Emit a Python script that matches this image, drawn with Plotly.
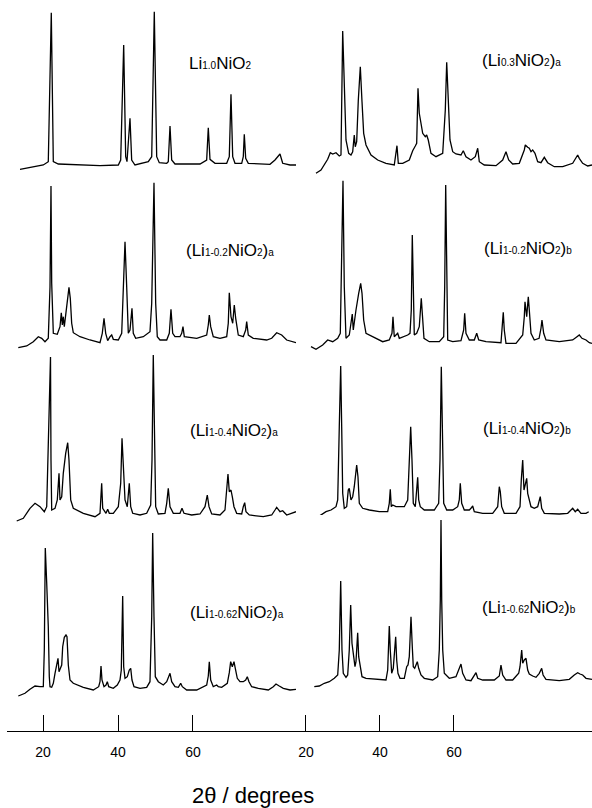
import plotly.graph_objects as go

# ---------------- data: 2theta (deg) and intensity (a.u.) ----------------
tt_10 = [13.87, 20.08, 21.41, 22.21, 22.75, 24.08, 35.2, 40.08, 40.72, 41.52, 42.05, 42.4, 43.2, 43.65, 44.53, 46.75,
         48.08, 48.99, 49.68, 50.32, 51.01, 52.99, 53.41, 53.87, 54.32, 55.2, 61.87, 63.65, 64.08, 64.53, 65.87, 68.99,
         69.68, 70.13, 70.59, 71.2, 72.99, 73.41, 73.68, 74.05, 74.75, 80.53, 81.87, 83.2, 83.92, 85.87, 87.47]
int_10 = [-3.3, 1, 4.3, 153.3, 4.3, 2, 0.3, 1, 6, 121, 9.3, 4.3, 47.7, 6, 1, 2.7, 4.3, 9.3, 154.3, 9.3, 3.3, 2.7, 4.3,
          40, 6, 2, 2, 6, 38.3, 6.7, 2.7, 2.7, 9.3, 71.7, 9.3, 2.7, 2.7, 9.3, 31.7, 7.7, 2.7, 1.7, 6, 12, 2.7, 1, 1]

tt_03a = [22.70, 24.05, 25.86, 26.57, 27.22, 28.11, 29.0, 29.46, 29.92, 30.35, 30.81, 31.54, 32.16, 32.62, 33.05, 33.32,
          33.70, 34.14, 34.68, 35.14, 35.59, 36.22, 37.57, 39.38, 41.62, 43.86, 44.59, 44.95, 46.14, 47.92, 48.84, 49.54,
          49.92, 50.27, 50.62, 51.54, 52.24, 52.62, 53.05, 53.78, 55.14, 56.95, 57.65, 58.03, 58.57, 58.92, 59.65, 60.54,
          61.89, 62.51, 63.24, 64.59, 65.76, 66.41, 66.84, 68.19, 71.35, 73.16, 74.05, 74.78, 75.86, 77.65, 79.0, 79.27,
          79.92, 80.35, 80.81, 81.27, 81.89, 82.62, 83.51, 84.41, 85.32, 87.11, 89.38, 92.08, 93.43, 93.86, 94.78, 96.14,
          97.30]
int_03a = [-7.3, -4, 6.7, 13.3, 12, 13.3, 10, 11, 135, 86, 26, 12.7, 11, 14.3, 31, 19.3, 24.3, 66, 99.3, 64.3, 32.7, 21,
           11, 6, 2.7, 1, 20.3, 2.7, 2.7, 6, 15.3, 20, 22.7, 77.7, 52.7, 32.7, 29.3, 31, 26, 12.7, 9.3, 12.7, 56, 103.7,
           61, 26, 14.3, 12, 11, 15.3, 9.3, 6, 9.3, 17.7, 4.3, 1, 0.3, 6, 14.3, 6, 2, 2.7, 16, 21, 18.7, 17.7, 14.3, 16,
           12.7, 4.3, 3.3, 8.7, 3.3, -0.7, -0.7, 2.7, 11, 7.7, 2.7, 0, 1]

tt_02a = [13.41, 15.65, 17.41, 18.75, 19.65, 20.53, 21.41, 21.87, 22.13, 22.32, 22.75, 23.81, 24.53, 24.88, 25.15, 25.41,
          25.68, 26.05, 26.59, 26.93, 27.28, 27.65, 28.08, 29.87, 32.53, 35.2, 35.81, 36.27, 36.72, 37.25, 37.87, 38.32,
          38.75, 40.08, 40.99, 41.41, 41.87, 42.32, 42.75, 43.2, 43.73, 44.08, 44.72, 46.75, 48.53, 48.99, 49.6, 50.05,
          50.48, 51.2, 52.99, 53.68, 54.13, 54.59, 55.2, 56.53, 56.99, 57.33, 57.68, 60.99, 63.65, 64.08, 64.35, 64.72,
          65.41, 67.2, 68.99, 69.41, 69.68, 70.13, 70.59, 71.01, 71.39, 72.08, 73.41, 74.05, 74.32, 74.75, 76.08, 79.65,
          80.99, 82.32, 83.65, 84.99, 86.32, 87.47]
int_02a = [-7.7, -6, -1.7, 3.3, 1.7, -1.7, 1.7, 53.3, 154, 56.7, 6.7, 5.7, 13.3, 27.3, 15, 23.3, 13.3, 26.7, 46.7, 52.7,
           41.7, 16.7, 7.3, 3.3, 0, -2.7, 6.7, 21.7, 6.7, -0.7, 3.3, 5, 0.7, 0, 6.7, 43.3, 98.3, 53.3, 6.7, 10, 31.7, 6.7,
           1.7, 3.3, 8.3, 36.7, 157.3, 36.7, 3.3, 0, 0, 6.7, 30.7, 6.7, 3.3, 3.3, 6.7, 13.3, 3.3, 1.7, 5, 15, 25, 13.3,
           3.3, 1.7, 3.3, 16.7, 47.3, 23.3, 16.7, 35, 21.7, 5, 3.3, 10, 18.3, 5, 1.7, 0, 1.7, 7.3, 5, 0, -1.7, -2.7]

tt_02b = [21.35, 22.70, 24.51, 25.86, 27.22, 28.57, 29.27, 29.65, 30.0, 30.35, 30.81, 31.70, 32.16, 32.51, 32.78, 33.05,
          33.51, 34.24, 34.78, 35.14, 35.59, 36.22, 38.03, 40.73, 42.51, 43.24, 43.51, 43.86, 44.32, 44.78, 45.22, 46.57,
          47.49, 48.11, 48.46, 48.73, 49.0, 49.27, 49.92, 50.62, 51.16, 51.54, 51.89, 53.32, 56.03, 57.22, 57.49, 57.76,
          58.03, 58.30, 59.65, 61.89, 62.62, 62.89, 63.24, 64.14, 65.49, 66.14, 66.68, 68.65, 72.70, 73.16, 73.32, 73.59,
          74.05, 76.76, 78.57, 79.0, 79.19, 79.65, 80.08, 80.35, 80.81, 81.70, 83.0, 83.51, 83.78, 84.24, 84.86, 88.46,
          92.08, 93.24, 93.86, 94.59, 95.68, 96.57, 97.30]
int_02b = [-4.7, -7.3, -3, 2, 0.3, 3.7, 8.7, 72, 161.3, 55.3, 3.7, 7, 17, 28, 12, 20.3, 32, 48.7, 58.7, 48.7, 22, 8.7,
           5.3, 0.3, 2, 8.7, 25.3, 5.3, 7, 8.7, 3.7, 5.3, 7, 8.7, 32, 107, 38.7, 7, 8.7, 15.3, 43.7, 25.3, 3.7, 0.3, 0.3,
           5.3, 55.3, 157, 55.3, 2, 0.3, 1.3, 12, 28.7, 8.7, 2, 2, 8.7, 2, 0.3, -0.7, 17, 29.7, 12, -1.3, -1.3, 7, 25.3,
           40.3, 25.3, 45.3, 32, 8.7, 2, 3.7, 13.7, 22, 8.7, 2, 0.3, 2, 5.3, 7, 3.7, 2, -0.7, -1.3]

tt_04a = [12.99, 14.75, 16.53, 17.87, 19.2, 20.35, 20.99, 21.41, 22.0, 22.13, 22.32, 23.2, 23.81, 24.27, 24.53, 24.99,
          25.41, 26.05, 26.59, 26.93, 27.39, 28.08, 30.75, 33.87, 35.2, 35.65, 35.92, 36.8, 37.25, 37.68, 38.75, 40.08,
          40.72, 41.07, 41.41, 41.87, 42.48, 43.01, 43.39, 43.92, 45.87, 47.65, 48.72, 49.07, 49.41, 49.79, 50.05, 50.75,
          52.53, 52.99, 53.41, 53.87, 54.75, 56.53, 57.07, 57.6, 59.65, 61.87, 63.2, 63.81, 64.27, 64.99, 67.2, 68.53,
          68.99, 69.33, 69.68, 70.13, 70.48, 70.93, 71.65, 72.99, 73.41, 73.79, 74.13, 75.01, 78.75, 80.99, 81.87, 82.32,
          83.2, 83.92, 84.99, 85.87, 87.47]
int_04a = [-7, -4.3, 5.7, 10.7, 7.3, 2.3, 7.3, 77.3, 157, 54, 4, 5.7, 14, 40.7, 14, 17.3, 40.7, 60.7, 71.3, 54, 14, 5.7,
           0.7, -2.7, 0.7, 30.7, 5.7, 0.7, 4.7, 0.7, 0.7, 7.3, 30.7, 75.7, 54, 14, 7.3, 30.7, 7.3, 0.7, -1, 0.7, 9, 54,
           159, 54, 7.3, 0, 0.7, 10.7, 25.7, 7.3, 0.7, 0.7, 5.7, 0.7, -1, 0, 7.3, 19, 7.3, 0, -1, 4, 20.7, 40, 22.3, 24,
           17.3, 7.3, 0.7, 0, 7.3, 11.3, 2.3, -1, -2.7, -1, 4, 6.7, 2.3, 3.3, -1, 0, 2.3]

tt_04b = [21.35, 23.59, 25.41, 26.76, 28.11, 28.57, 29.0, 29.38, 29.65, 29.92, 30.35, 31.0, 31.43, 31.70, 32.16, 32.62,
          33.05, 33.70, 34.05, 34.41, 35.32, 37.11, 39.81, 42.08, 42.51, 42.78, 43.05, 43.43, 44.32, 45.68, 46.57, 47.49,
          47.92, 48.30, 48.65, 49.0, 49.54, 49.92, 50.19, 50.46, 50.89, 51.97, 54.68, 55.86, 56.22, 56.57, 56.95, 57.22,
          58.03, 59.65, 61.0, 61.43, 61.70, 62.08, 62.78, 64.14, 64.59, 65.05, 65.49, 67.76, 70.46, 71.81, 72.24, 72.51,
          72.89, 73.59, 76.76, 77.84, 78.19, 78.57, 78.92, 79.27, 79.65, 79.92, 80.35, 80.81, 81.70, 82.62, 83.32, 83.70,
          84.41, 88.46, 90.73, 91.62, 92.08, 92.78, 93.43, 94.32, 95.68, 96.41]
int_04b = [-4.7, -4, 0.3, 2, 5.3, 12, 85.3, 146, 85.3, 18.7, 3.7, 5.3, 22, 23.7, 12, 15.3, 25.3, 47, 35.3, 8.7, 3.7, 2,
           0.3, 0.3, 8.7, 22.7, 5.3, 7, 5.3, 5.3, 5.3, 12, 52, 85.3, 52, 8.7, 5.3, 18.7, 34.7, 12, 5.3, 2, 2, 8.7, 52,
           145.3, 52, 8.7, 2, 2, 5.3, 12, 28.7, 8.7, 2, 2, 3.7, 6, 0.3, -1.3, -1.3, 5.3, 25.3, 20.3, 5.3, -1.3, -1.3, 5.3,
           32, 52, 22, 28.7, 33.7, 18.7, 12, 5.3, 3.7, 5.3, 15.3, 3.7, -1.3, -2, -1.3, 2, 3.7, 0.3, 2.7, -1.3, -1.3, 0.3]

tt_062a = [13.41, 15.2, 16.53, 17.87, 19.2, 20.08, 20.35, 20.61, 20.99, 21.41, 21.68, 21.87, 22.32, 22.75, 23.2, 23.65,
           24.0, 24.27, 24.53, 24.99, 25.25, 25.68, 26.13, 26.4, 26.75, 27.2, 28.08, 30.75, 33.41, 34.85, 35.2, 35.47,
           35.73, 36.27, 36.8, 37.15, 37.52, 38.75, 39.81, 40.53, 40.88, 41.25, 41.52, 41.87, 42.48, 43.01, 43.39, 43.73,
           44.27, 45.87, 47.65, 48.53, 48.99, 49.25, 49.6, 49.95, 50.75, 52.08, 52.99, 53.6, 53.87, 54.32, 55.2, 56.08,
           56.72, 57.15, 58.32, 60.99, 63.65, 64.08, 64.35, 64.72, 65.41, 66.32, 66.75, 67.65, 69.15, 69.68, 70.05, 70.48,
           70.93, 71.28, 71.81, 72.53, 73.41, 74.05, 74.48, 74.93, 75.65, 77.41, 80.08, 81.41, 82.13, 83.01, 84.08, 85.87,
           87.47]
int_062a = [-8, -5.3, -1.3, 2, 1.3, 1.3, 38, 140, 104.7, 61.3, 11.3, 1.3, 0.7, 4.7, 14.7, 24.7, 29.7, 16.3, 19.7, 23,
            41.3, 50.7, 53, 51.3, 23, 8, 4.7, 0.7, -2, 1.3, 6.3, 22, 8, 1.3, 3, 6.3, 1.3, -0.3, 3, 8, 18, 92, 21.3, 9.7,
            11.3, 18, 19.7, 8, 1.3, -0.3, 0.7, 6.3, 71.3, 155, 71.3, 11.3, 6.3, 3, 6.3, 11.3, 14.7, 6.3, 1.3, 0.7, 4.7,
            1.3, -2, -2, 3, 12, 26.3, 8, 1.3, 3, 1.3, 0.7, 4.7, 15.3, 26.3, 21.3, 26.3, 19.7, 9.7, 6.3, 6.3, 8, 11.3, 6.3,
            1.3, -0.3, -2, 1.3, 4, 2, -0.3, -2, -1.3]

tt_062b = [22.24, 23.59, 24.95, 26.30, 27.65, 28.57, 29.0, 29.38, 29.73, 30.08, 30.81, 31.27, 31.70, 32.08, 32.43, 32.78,
           33.24, 33.51, 33.97, 34.24, 34.59, 35.14, 36.22, 38.92, 41.62, 42.08, 42.35, 42.51, 42.78, 43.16, 43.59, 43.97,
           44.24, 44.51, 44.86, 45.41, 46.57, 47.22, 47.57, 47.92, 48.38, 48.73, 49.0, 49.38, 49.73, 50.08, 50.46, 51.08,
           51.97, 54.24, 55.59, 56.03, 56.30, 56.49, 56.68, 56.95, 57.38, 58.73, 60.54, 61.43, 61.89, 62.35, 63.24, 64.59,
           65.49, 65.95, 66.41, 67.76, 70.89, 72.24, 72.70, 73.16, 74.05, 75.86, 77.49, 77.84, 78.30, 78.57, 79.0, 79.46,
           79.92, 80.35, 81.27, 82.16, 83.05, 83.70, 84.08, 84.86, 88.46, 91.16, 92.51, 93.43, 94.05, 94.78, 95.68, 97.30]
int_062b = [-6.7, -6, -3.3, -1.7, 1.7, 5, 30, 99, 30, 6.7, 2.7, 5, 30, 75, 36.7, 23.3, 13.3, 18.3, 47.3, 23.3, 15, 3.3,
            1.7, 0.7, 0, 10, 30, 54, 30, 6.7, 11.7, 30, 43.3, 20, 6.7, 1.7, 1.7, 13.3, 15, 23.3, 63.3, 33.3, 13.3, 11.7,
            15, 18.3, 11.7, 5, 1.7, 0, 3.3, 30, 80, 160, 80, 30, 6.7, 1.7, 3.3, 10.7, 16, 6.7, 0, -0.7, 5, 7.3, 1.7, 0, 0,
            4, 15, 5, 0, 0, 6.7, 13.3, 30, 16.7, 20, 21.7, 10, 6, 4, 2.7, 6.7, 11.7, 5, 0.7, -0.7, 0.7, 5, 7.3, 6, 5, 1.7,
            0.7]

tick_vals = [20, 40, 60]
tick_text = ["20", "40", "60"]

SM = '<span style="font-size:10px">'
panels = [
    # (2theta, intensity, column, label)
    (tt_10, int_10, 0, "Li" + SM + "1.0</span>NiO" + SM + "2</span>"),
    (tt_03a, int_03a, 1, "(Li" + SM + "0.3</span>NiO" + SM + "2</span>)" + SM + "a</span>"),
    (tt_02a, int_02a, 0, "(Li" + SM + "1-0.2</span>NiO" + SM + "2</span>)" + SM + "a</span>"),
    (tt_02b, int_02b, 1, "(Li" + SM + "1-0.2</span>NiO" + SM + "2</span>)" + SM + "b</span>"),
    (tt_04a, int_04a, 0, "(Li" + SM + "1-0.4</span>NiO" + SM + "2</span>)" + SM + "a</span>"),
    (tt_04b, int_04b, 1, "(Li" + SM + "1-0.4</span>NiO" + SM + "2</span>)" + SM + "b</span>"),
    (tt_062a, int_062a, 0, "(Li" + SM + "1-0.62</span>NiO" + SM + "2</span>)" + SM + "a</span>"),
    (tt_062b, int_062b, 1, "(Li" + SM + "1-0.62</span>NiO" + SM + "2</span>)" + SM + "b</span>"),
]

# ---------------- layout geometry ----------------
W, H = 592, 808
base_px = [166, 166, 340, 342, 514, 512, 688, 680]     # baseline pixel row of each panel
label_pos = [(187, 64), (480, 61), (184, 250), (482, 249), (188, 430), (481, 428), (188, 612), (480, 607)]
Y_LO, Y_HI = -15, 165
axis_px = 731

fig = go.Figure()
layout = dict(
    width=W, height=H, margin=dict(l=0, r=0, t=0, b=0),
    paper_bgcolor="white", plot_bgcolor="white", showlegend=False,
    font=dict(family="Liberation Sans, Arial, sans-serif", color="black"),
)

xcommon = dict(
    anchor="free", position=1 - axis_px / H, showline=True, linecolor="black", linewidth=1,
    ticks="inside", ticklen=16, tickwidth=1, tickcolor="black", tickvals=tick_vals, ticktext=tick_text,
    tickfont=dict(size=14, family="Liberation Sans, Arial, sans-serif", color="black"),
    ticklabelstandoff=8, showgrid=False, zeroline=False, fixedrange=True,
)
layout["xaxis"] = dict(domain=[7 / W, 296 / W], range=[10.4, 87.47], **xcommon)
layout["xaxis2"] = dict(domain=[296 / W, 1.0], range=[17.3, 97.3], **xcommon)

annotations = []
for i, (tt, inten, col, lab) in enumerate(panels):
    yname = "y" if i == 0 else f"y{i + 1}"
    xname = "x" if col == 0 else "x2"
    fig.add_trace(go.Scatter(x=tt, y=inten, xaxis=xname, yaxis=yname, mode="lines",
                             line=dict(color="black", width=1.3), hoverinfo="skip"))
    B = base_px[i]
    dom = [1 - (B - Y_LO) / H, 1 - (B - Y_HI) / H]
    layout["yaxis" if i == 0 else f"yaxis{i + 1}"] = dict(
        domain=dom, range=[Y_LO, Y_HI], visible=False, anchor=xname, fixedrange=True)
    lx, ly = label_pos[i]
    annotations.append(dict(text=lab, x=lx / W, y=1 - ly / H, xref="paper", yref="paper",
                            xanchor="left", yanchor="middle", showarrow=False,
                            font=dict(size=17, family="Liberation Sans Narrow, Arial Narrow, Liberation Sans, Arial",
                                      color="black")))

annotations.append(dict(text="2θ / degrees", x=253 / W, y=1 - 795 / H, xref="paper", yref="paper",
                        xanchor="center", yanchor="middle", showarrow=False,
                        font=dict(size=22, family="Liberation Sans, Arial, sans-serif", color="black")))
layout["annotations"] = annotations

fig.update_layout(**layout)
fig.write_html("out.html")
